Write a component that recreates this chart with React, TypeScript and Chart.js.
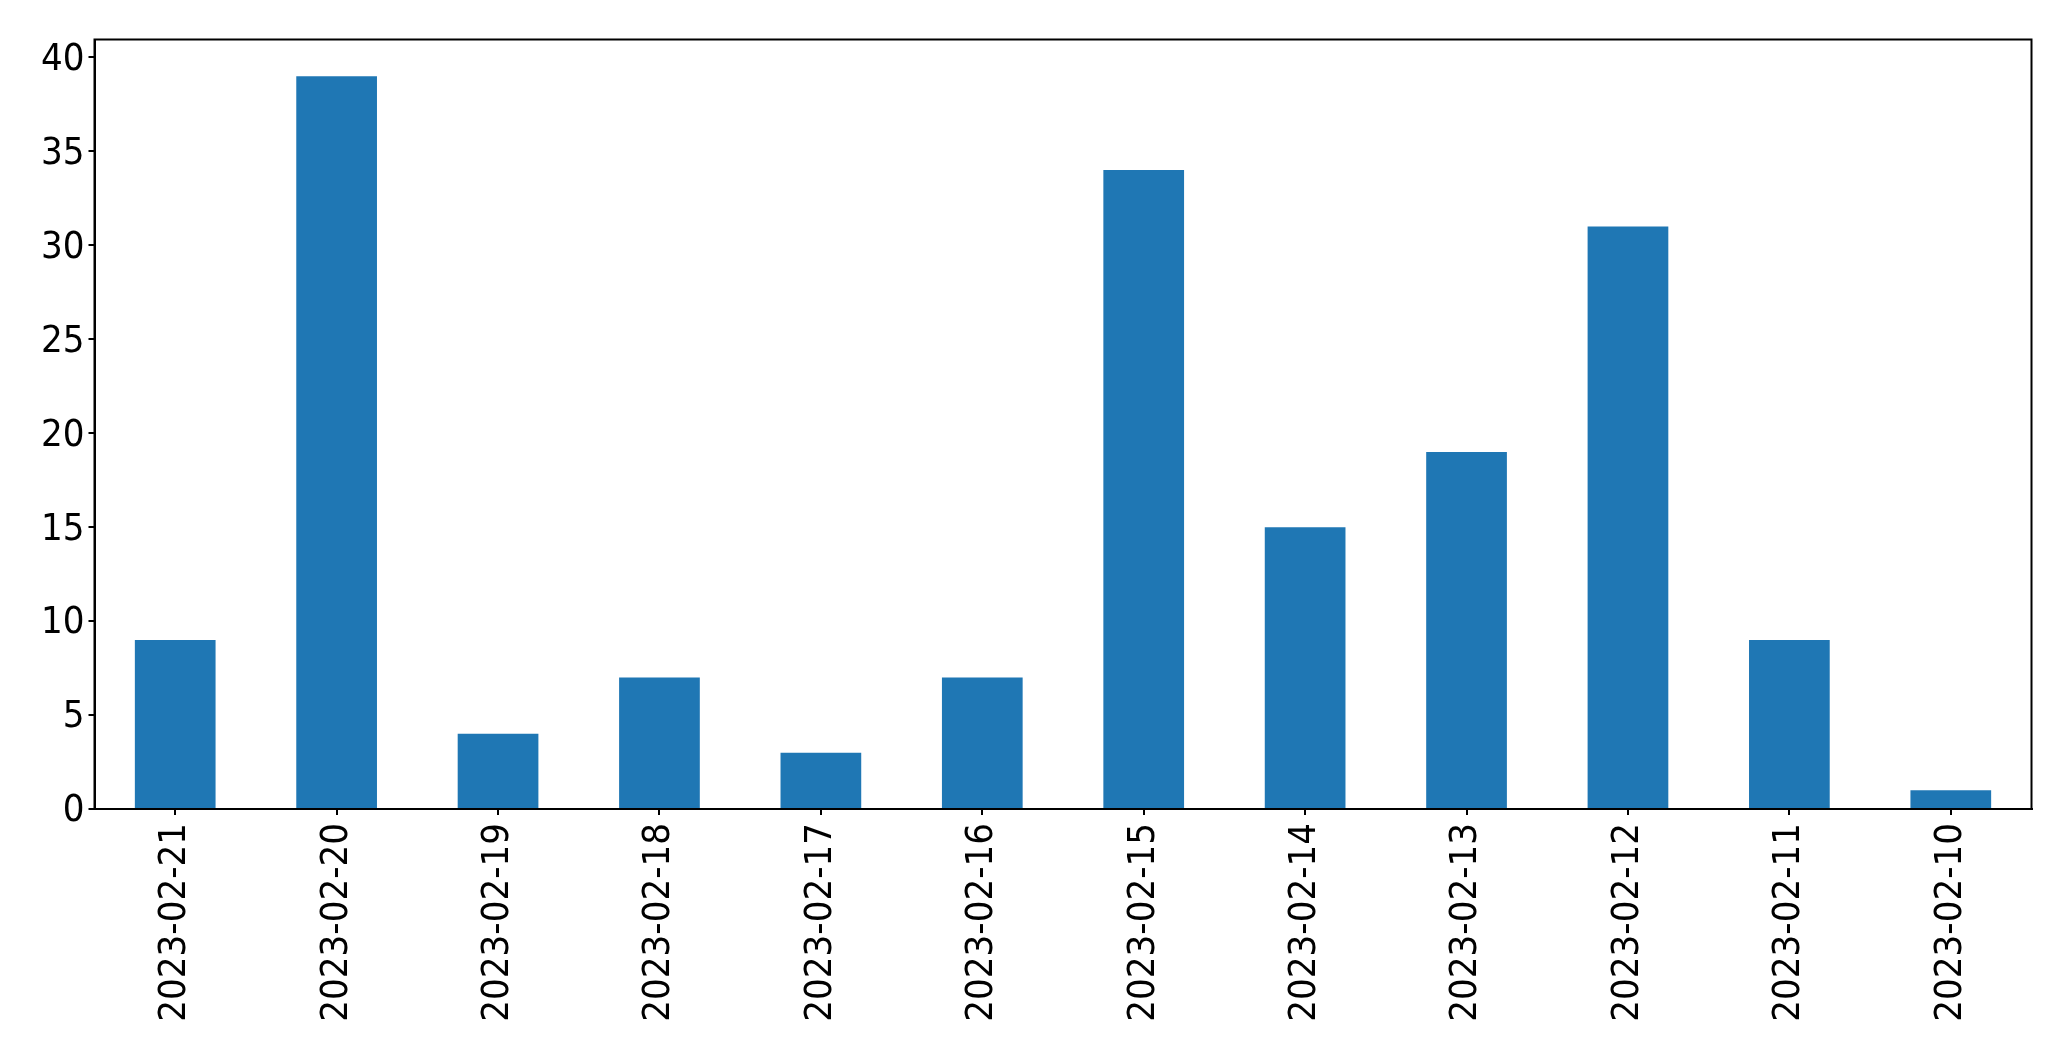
import React, { useEffect, useRef } from "react";
import { Chart, registerables } from "chart.js";

Chart.register(...registerables);

const categories = [
  "2023-02-21", "2023-02-20", "2023-02-19", "2023-02-18", "2023-02-17", "2023-02-16",
  "2023-02-15", "2023-02-14", "2023-02-13", "2023-02-12", "2023-02-11", "2023-02-10",
];
const counts = [9, 39, 4, 7, 3, 7, 34, 15, 19, 31, 9, 1];
const yMax = 40.95;
const yStep = 5;

const W = 2071;
const H = 1061;
const PLOT_LEFT = 94.5;
const PLOT_TOP = 39.5;
const PLOT_RIGHT = 2031.5;
const PLOT_BOTTOM = 809;

const frame = {
  id: "frame",
  afterDatasetsDraw(chart: any) {
    const { ctx, chartArea } = chart;
    ctx.save();
    ctx.strokeStyle = "#000";
    ctx.lineWidth = 2;
    ctx.strokeRect(chartArea.left, chartArea.top, chartArea.right - chartArea.left, chartArea.bottom - chartArea.top);
    ctx.restore();
  },
};

export default function App() {
  const ref = useRef<HTMLCanvasElement | null>(null);
  useEffect(() => {
    document.body.style.margin = "0";
    const font = { family: "'DejaVu Sans Condensed', 'DejaVu Sans', sans-serif", size: 38 };
    const chart = new Chart(ref.current as HTMLCanvasElement, {
      type: "bar",
      data: {
        labels: categories,
        datasets: [
          {
            data: counts,
            backgroundColor: "#1f77b4",
            borderWidth: 0,
            barPercentage: 0.5,
            categoryPercentage: 1,
          },
        ],
      },
      options: {
        animation: false,
        responsive: false,
        devicePixelRatio: 1,
        layout: { padding: { left: 0, top: PLOT_TOP, right: W - PLOT_RIGHT, bottom: 0 } },
        plugins: { legend: { display: false }, tooltip: { enabled: false } },
        scales: {
          x: {
            offset: true,
            grid: { offset: false, drawOnChartArea: false, drawTicks: true, tickLength: 6, color: "#000", lineWidth: 2 },
            border: { display: true, color: "#000", width: 2 },
            ticks: { color: "#000", font, minRotation: 90, maxRotation: 90, padding: 8, autoSkip: false },
            afterFit(scale: any) {
              scale.height = H - PLOT_BOTTOM;
            },
          },
          y: {
            min: 0,
            max: yMax,
            grid: { drawOnChartArea: false, drawTicks: true, tickLength: 6, color: "#000", lineWidth: 2 },
            border: { display: true, color: "#000", width: 2 },
            ticks: { color: "#000", font, stepSize: yStep, includeBounds: false, padding: 4, labelOffset: 2.5 } as any,
            afterFit(scale: any) {
              scale.width = PLOT_LEFT;
            },
          },
        },
      },
      plugins: [frame],
    });
    return () => chart.destroy();
  }, []);
  return (
    <div style={{ position: "absolute", left: 0, top: 0, width: W, height: H, background: "#fff" }}>
      <canvas ref={ref} width={W} height={H} style={{ width: W, height: H, display: "block" }} />
    </div>
  );
}
